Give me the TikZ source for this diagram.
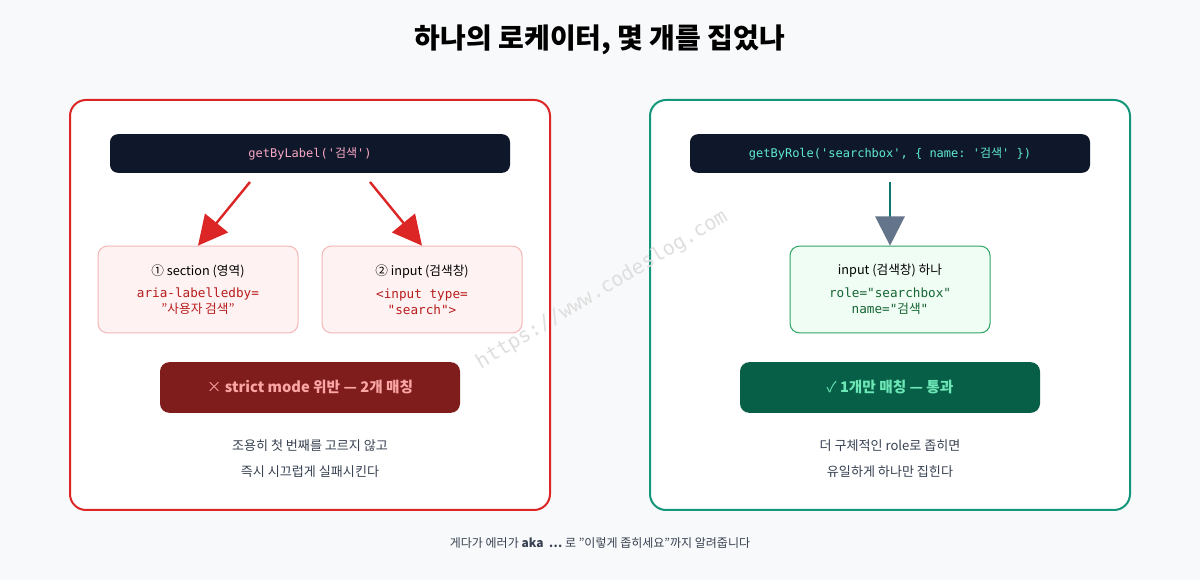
\documentclass[tikz,border=0pt]{standalone}
\usepackage{fontspec}
\setmainfont{Noto Sans CJK KR}
\setmonofont{DejaVu Sans Mono}
\newfontfamily\krfont{Noto Sans CJK KR}
\newcommand{\ko}[1]{{\krfont #1}}
\usetikzlibrary{arrows.meta}
\definecolor{pagebg}{HTML}{F8F9FA}
\definecolor{failred}{HTML}{DC2626}
\definecolor{passteal}{HTML}{14967A}
\definecolor{codebg}{HTML}{0F172A}
\definecolor{codepink}{HTML}{F9A8C4}
\definecolor{codemint}{HTML}{5EEAD4}
\definecolor{softred}{HTML}{FEF2F2}
\definecolor{softredline}{HTML}{F2B8B8}
\definecolor{darkred}{HTML}{B91C1C}
\definecolor{btnred}{HTML}{7F1D1D}
\definecolor{btnredtext}{HTML}{FCA5A5}
\definecolor{softgreen}{HTML}{F0FDF4}
\definecolor{greenline}{HTML}{2DA564}
\definecolor{darkgreen}{HTML}{166534}
\definecolor{btngreen}{HTML}{065F46}
\definecolor{btngreentext}{HTML}{6EE7B7}
\definecolor{captiongray}{HTML}{374151}
\definecolor{slatehead}{HTML}{64748B}
\definecolor{tealline}{HTML}{0F766E}
\tikzset{every picture/.style={line width=0.75pt}}
\tikzset{
  panel/.style={rounded corners=12pt, fill=white, line width=1.5pt},
  codebox/.style={rounded corners=6pt, fill=codebg, minimum width=300pt, minimum height=29pt, font=\ttfamily\fontsize{9}{11}\selectfont},
  hitbox/.style={rounded corners=7pt, minimum width=150pt, minimum height=65pt, align=center, font=\fontsize{9.5}{13}\selectfont},
  resultbtn/.style={rounded corners=7pt, minimum width=225pt, minimum height=38pt, font=\bfseries\fontsize{11}{13}\selectfont},
  caption/.style={text=captiongray, font=\fontsize{9.8}{12}\selectfont},
  failarrow/.style={draw=failred, line width=1.8pt, -{Triangle[length=22pt,width=22pt]}},
  passarrow/.style={draw=tealline, line width=1.8pt, -{Triangle[length=22pt,width=22pt,color=slatehead]}}
}
\begin{document}
\begin{tikzpicture}[x=0.75pt,y=0.75pt,yscale=-1,xscale=1]
\fill[pagebg] (0,0) rectangle (1200,580);
\useasboundingbox (0,0) rectangle (1200,580);

% Title
\node (title) at (600,40) {\bfseries\fontsize{21}{24}\selectfont 하나의 로케이터, 몇 개를 집었나};

% Left panel
\draw[panel, draw=failred] (70,100) rectangle (550,510);
\node[codebox, text=codepink] (codeL) at (310,153.5) {getByLabel('\ko{검색}')};
\node[hitbox, fill=softred, draw=softredline] (sect) at (198,289.5) {① section (영역)\\[4pt]{\ttfamily\color{darkred}aria-labelledby=}\\[-1pt]{\color{darkred}"사용자 검색"}};
\node[hitbox, fill=softred, draw=softredline] (inp) at (422,289.5) {② input (검색창)\\[4pt]{\ttfamily\color{darkred}<input type=}\\[-1pt]{\ttfamily\color{darkred}"search">}};
\coordinate (fromL1) at (250,182);
\coordinate (fromL2) at (370,182);
\draw[failarrow] (fromL1) -- (sect.north);
\draw[failarrow] (fromL2) -- (inp.north);
\node[resultbtn, fill=btnred, text=btnredtext] (fail) at (310,387.5) {{\mdseries ×} strict mode 위반 — 2개 매칭};
\node[caption] (capL1) at (310,446) {조용히 첫 번째를 고르지 않고};
\node[caption] (capL2) at (310,472) {즉시 시끄럽게 실패시킨다};

% Right panel
\draw[panel, draw=passteal] (650,100) rectangle (1130,510);
\node[codebox, text=codemint] (codeR) at (890,153.5) {getByRole('searchbox', \{ name: '\ko{검색}' \})};
\node[hitbox, fill=softgreen, draw=greenline] (only) at (890,289.5) {input (검색창) 하나\\[4pt]{\ttfamily\color{darkgreen}role="searchbox"}\\[-1pt]{\color{darkgreen}\ttfamily name="\ko{검색}"}};
\coordinate (fromR) at (890,182);
\draw[passarrow] (fromR) -- (only.north);
\node[resultbtn, fill=btngreen, text=btngreentext] (pass) at (890,387.5) {{\mdseries ✓} 1개만 매칭 — 통과};
\node[caption] (capR1) at (890,446) {더 구체적인 role로 좁히면};
\node[caption] (capR2) at (890,472) {유일하게 하나만 집힌다};

% Footer
\node[caption, font=\fontsize{9}{11}\selectfont] (foot) at (600,543) {게다가 에러가 \textbf{aka}~~\textbf{…} 로 "이렇게 좁히세요"까지 알려줍니다};

% Watermark
\node[rotate=31, text=black!13, font=\ttfamily\fontsize{15}{17}\selectfont] (mark) at (602,290) {https://www.codeslog.com};
\end{tikzpicture}
\end{document}
